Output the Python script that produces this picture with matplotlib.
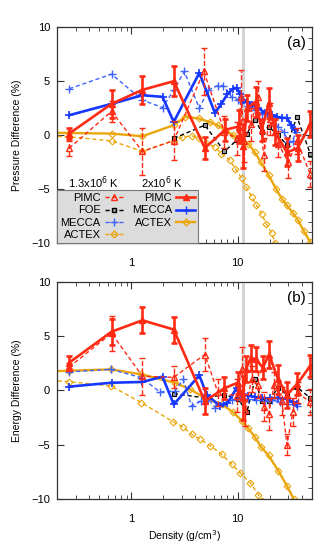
import numpy as np
import matplotlib.pyplot as plt
from matplotlib.ticker import MultipleLocator, LogLocator, NullFormatter
from matplotlib.lines import Line2D

plt.rcParams['font.family'] = ['Liberation Sans', 'DejaVu Sans']

RED = '#ff2a14'
BLUE = '#1637ff'
BLUE_D = '#3f63ff'
ORANGE = '#eaa60c'
DASH = (0, (3, 2))

# ---------------- (a) pressure difference ----------------
pa_pimc2_x = [0.26, 0.65, 1.27, 2.5, 4.9, 7.6, 10.2, 11.3, 12.2, 14.7, 16.8, 19.6, 22.5, 29, 36.5, 48]
pa_pimc2_y = [0.15, 2.9, 4.2, 5.0, -1.2, 0.5, 0.8, -1.0, 2.5, 3.1, 0.5, 3.0, 0.3, -1.6, -1.2, 1.0]
pa_pimc2_e = [0.5, 1.3, 1.3, 1.4, 1.0, 1.0, 1.5, 2.0, 1.2, 1.4, 1.0, 1.4, 1.2, 1.3, 1.2, 1.2]

pa_pimc1_x = [0.26, 0.65, 1.27, 2.5, 4.8, 7.5, 9.8, 10.8, 11.5, 13.3, 15.5, 17.5, 20, 24, 30, 36, 48]
pa_pimc1_y = [-1.2, 2.2, -1.5, -0.5, 5.9, 0.3, -0.3, 3.5, -0.5, 1.0, 3.5, -1.8, 1.5, -0.8, -2.5, -0.5, -3.6]
pa_pimc1_e = [0.7, 1.0, 2.2, 1.8, 2.2, 1.5, 1.5, 2.5, 2.0, 1.5, 1.5, 1.5, 1.5, 1.2, 1.5, 1.2, 1.2]

pa_mecca2_x = [0.26, 0.65, 1.27, 1.96, 2.5, 4.35, 6.1, 7.0, 8.0, 9.0, 9.8, 10.5, 11.2, 12.2,
               13.5, 15.6, 18.0, 20.9, 23.5, 26, 29, 32, 34.7]
pa_mecca2_y = [1.85, 2.9, 3.7, 3.55, 1.23, 5.77, 2.06, 2.9, 3.8, 4.3, 4.4, 3.8, 3.3, 3.1,
               2.8, 2.5, 2.1, 1.85, 1.7, 1.6, 1.6, 0.9, 0.46]

pa_mecca1_x = [0.26, 0.65, 1.27, 1.96, 2.5, 3.14, 4.35, 5.3, 6.5, 7.3, 8.8, 10.0, 11.0, 12.5,
               14.5, 17, 20, 24, 27, 30, 33, 35]
pa_mecca1_y = [4.3, 5.65, 3.25, 2.56, 4.17, 5.9, 2.5, 4.2, 4.6, 4.6, 3.5, 3.3, 3.1, 2.7,
               2.3, 2.0, 1.8, 0.8, 0.3, -0.6, -0.5, 0.3]

pa_foe_x = [2.5, 4.9, 7.5, 9.8, 12.2, 14.5, 16.8, 19.5, 24, 29, 36, 48]
pa_foe_y = [-0.3, 0.93, -1.5, -0.46, 0.15, 1.45, 0.3, 0.8, 0.0, -0.9, 1.7, -1.7]

pa_actex2_x = [0.15, 0.26, 0.65, 1.27, 2.5, 3.2, 4.3, 5.5, 6.5, 7.6, 9.0, 10.9, 12.6, 14.5,
               16.5, 19.5, 23, 26, 29, 33, 37, 42, 48]
pa_actex2_y = [0.25, 0.2, 0.15, -0.1, 0.93, 1.7, 1.55, 1.2, 0.9, 0.5, 0.0, -0.5, -0.8, -1.6,
               -2.5, -3.7, -5.0, -5.9, -6.5, -7.2, -7.9, -8.9, -9.9]

pa_actex1_x = [0.15, 0.26, 0.65, 1.27, 2.5, 3.0, 3.7, 4.3, 5.0, 6.1, 7.0, 8.4, 9.5, 10.9, 12.0,
               13.5, 15.0, 16.8, 18.5, 20.9, 22.5]
pa_actex1_y = [-0.05, -0.15, -0.53, -1.5, -0.5, -0.2, -0.05, -0.3, -0.7, -1.1, -1.7, -2.3, -3.1,
               -4.0, -4.8, -5.7, -6.5, -7.3, -8.2, -9.1, -10.0]

# ---------------- (b) energy difference ----------------
pb_pimc2_x = [0.26, 0.65, 1.27, 2.5, 4.9, 7.5, 10.0, 11.1, 12.0, 13.3, 14.8, 17.2, 19.7, 24, 29, 36, 48]
pb_pimc2_y = [2.55, 5.4, 6.45, 5.6, -1.0, 0.2, 0.7, -0.7, 2.0, 3.0, 2.85, 2.1, 3.3, 1.0, -0.4, 0.55, 2.25]
pb_pimc2_e = [0.6, 1.2, 1.2, 1.2, 1.2, 1.0, 1.0, 2.0, 1.2, 1.2, 1.1, 1.1, 1.2, 1.3, 1.2, 1.0, 1.0]

pb_pimc1_x = [0.26, 0.65, 1.27, 2.5, 4.9, 6.5, 9.8, 10.9, 11.8, 13.5, 15.5, 17.5, 19.5, 22, 26,
              29, 33, 36.5, 48]
pb_pimc1_y = [2.15, 5.25, 1.3, 1.2, 3.3, -0.2, -0.5, 2.0, -1.8, 1.0, 0.5, -1.5, -2.2, 0.5, -1.0,
              -5.0, -2.0, -0.2, -1.1]
pb_pimc1_e = [0.4, 1.6, 1.7, 1.0, 1.5, 1.2, 1.5, 2.0, 1.5, 1.2, 1.2, 1.3, 1.5, 1.2, 1.3,
              1.0, 1.3, 1.0, 1.2]

pb_mecca2_x = [0.26, 0.65, 1.27, 1.96, 2.5, 4.35, 5.1, 6.8, 8.0, 9.8, 11.0, 12.6, 14.5, 17, 20,
               24, 29, 33, 36]
pb_mecca2_y = [0.34, 0.7, 0.77, 1.26, -1.3, 1.38, -0.4, -1.45, -1.2, 0.25, -0.3, -0.5, -0.6, -0.7,
               -0.75, -0.7, -0.8, -1.1, -1.3]

pb_mecca1_x = [0.26, 0.64, 1.24, 1.85, 2.56, 3.07, 3.68, 4.5, 5.3, 6.1, 7.3, 8.8, 10.5, 12.5,
               15, 18, 21, 25, 30, 36]
pb_mecca1_y = [1.7, 1.93, 1.17, -0.15, -0.06, 1.0, -1.45, -1.0, -0.8, -1.6, -1.2, -0.9, -0.7, -0.8,
               -0.9, -1.0, -0.9, -1.1, -1.3, -1.4]

pb_foe_x = [2.5, 4.9, 7.5, 10.1, 12.2, 14.5, 16.8, 19.5, 24, 29, 36, 48]
pb_foe_y = [-0.3, -0.7, -0.4, -0.8, -2.0, 1.0, -1.0, -1.0, 0.25, -0.4, 0.3, -0.7]

pb_actex2_x = [0.15, 0.26, 0.64, 1.24, 2.56, 3.55, 4.9, 7.1, 9.0, 10.9, 12.5, 14.5, 16.5, 19.5,
               24, 29, 33.5]
pb_actex2_y = [1.75, 1.8, 1.93, 1.47, 0.7, 0.1, -0.7, -1.3, -2.0, -2.8, -3.5, -4.3, -5.2, -6.0,
               -7.4, -8.8, -10.0]

pb_actex1_x = [0.15, 0.26, 0.64, 1.24, 2.47, 3.07, 3.68, 4.4, 5.5, 7.07, 8.77, 10.5, 13.1, 15.6, 16.8]
pb_actex1_y = [0.95, 0.8, 0.4, -1.13, -2.9, -3.4, -4.05, -4.5, -5.1, -5.9, -6.8, -7.6, -8.5, -9.6, -10.2]

band = (10.9, 11.6)


def dashed_errorbar(ax, x, y, e, color, marker, mfc, ls, lw):
    eb = ax.errorbar(x, y, yerr=e, color=color, marker=marker, mfc=mfc, mec=color,
                     ms=4, ls=ls, lw=lw, elinewidth=lw, capsize=2.5, capthick=lw)
    if ls != '-':
        for bl in eb[2]:
            bl.set_linestyle('--')
    return eb


def draw(ax, d, label):
    ax.axvspan(*band, color='#d3d3d3', lw=0, zorder=0)
    ax.plot(d['actex1'][0], d['actex1'][1], color=ORANGE, ls=DASH, lw=1.0, marker='D',
            mfc='none', ms=3.5, mew=0.8)
    ax.plot(d['actex2'][0], d['actex2'][1], color=ORANGE, ls='-', lw=1.7, marker='D',
            mfc='none', ms=3.5, mew=0.8)
    ax.plot(d['foe'][0], d['foe'][1], color='black', ls=DASH, lw=1.0, marker='s',
            mfc='#999999', ms=3.5, mew=0.8)
    ax.plot(d['mecca1'][0], d['mecca1'][1], color=BLUE_D, ls=DASH, lw=1.0, marker='+',
            ms=6, mew=1.0)
    ax.plot(d['mecca2'][0], d['mecca2'][1], color=BLUE, ls='-', lw=1.9, marker='+',
            ms=6, mew=1.2)
    dashed_errorbar(ax, *d['pimc1'], RED, '^', 'none', DASH, 1.0)
    dashed_errorbar(ax, *d['pimc2'], RED, '^', RED, '-', 1.9)

    ax.set_xscale('log')
    ax.set_xlim(0.2, 50)
    ax.set_ylim(-10, 10)
    ax.set_xticks([1, 10], ['1', '10'])
    ax.xaxis.set_minor_locator(LogLocator(base=10, subs=np.arange(2, 10)))
    ax.xaxis.set_minor_formatter(NullFormatter())
    ax.set_yticks([-10, -5, 0, 5, 10])
    ax.yaxis.set_minor_locator(MultipleLocator(1))
    ax.tick_params(which='both', direction='in', top=True, right=True, labelsize=8,
                   color='#333333')
    ax.tick_params(which='major', length=5, width=0.8)
    ax.tick_params(which='minor', length=3, width=0.6, left=False)
    ax.tick_params(axis='x', pad=11)
    ax.tick_params(axis='y', pad=5)
    for sp in ax.spines.values():
        sp.set_linewidth(0.9)
        sp.set_color('#333333')
    ax.text(0.975, 0.925, label, transform=ax.transAxes, ha='right', va='center', fontsize=11)


fig = plt.figure(figsize=(3.32, 5.44), dpi=100)
ax_a = fig.add_axes([0.172, 0.553, 0.768, 0.397])
ax_b = fig.add_axes([0.172, 0.083, 0.768, 0.399])

data_a = {
    'pimc2': (pa_pimc2_x, pa_pimc2_y, pa_pimc2_e),
    'pimc1': (pa_pimc1_x, pa_pimc1_y, pa_pimc1_e),
    'mecca2': (pa_mecca2_x, pa_mecca2_y),
    'mecca1': (pa_mecca1_x, pa_mecca1_y),
    'foe': (pa_foe_x, pa_foe_y),
    'actex2': (pa_actex2_x, pa_actex2_y),
    'actex1': (pa_actex1_x, pa_actex1_y),
}
data_b = {
    'pimc2': (pb_pimc2_x, pb_pimc2_y, pb_pimc2_e),
    'pimc1': (pb_pimc1_x, pb_pimc1_y, pb_pimc1_e),
    'mecca2': (pb_mecca2_x, pb_mecca2_y),
    'mecca1': (pb_mecca1_x, pb_mecca1_y),
    'foe': (pb_foe_x, pb_foe_y),
    'actex2': (pb_actex2_x, pb_actex2_y),
    'actex1': (pb_actex1_x, pb_actex1_y),
}

draw(ax_a, data_a, '(a)')
draw(ax_b, data_b, '(b)')

ax_a.set_ylabel('Pressure Difference (%)', fontsize=7.5, labelpad=7)
ax_b.set_ylabel('Energy Difference (%)', fontsize=7.5, labelpad=7)
ax_b.set_xlabel('Density (g/cm$^3$)', fontsize=7.5, labelpad=3)

# legend in panel (a)
handles = [
    Line2D([], [], color=RED, ls=DASH, lw=1.0, marker='^', mfc='none', ms=4),
    Line2D([], [], color='black', ls=DASH, lw=1.0, marker='s', mfc='#999999', ms=3.5),
    Line2D([], [], color=BLUE_D, ls=DASH, lw=1.0, marker='+', ms=6),
    Line2D([], [], color=ORANGE, ls=DASH, lw=1.0, marker='D', mfc='none', ms=3.5),
    Line2D([], [], color=RED, ls='-', lw=1.9, marker='^', ms=4),
    Line2D([], [], color=BLUE, ls='-', lw=1.9, marker='+', ms=6),
    Line2D([], [], color=ORANGE, ls='-', lw=1.7, marker='D', mfc='none', ms=3.5),
    Line2D([], [], alpha=0),
]
labels = ['PIMC', 'FOE', 'MECCA', 'ACTEX', 'PIMC', 'MECCA', 'ACTEX', '']
leg = ax_a.legend(handles, labels, ncol=2, loc='lower left', bbox_to_anchor=(0, 0),
                  borderaxespad=0, markerfirst=False, fancybox=False, facecolor='#dcdcdc',
                  edgecolor='#777777', framealpha=1, fontsize=8, handlelength=1.7,
                  columnspacing=0.7, labelspacing=0.2, handletextpad=0.4, borderpad=0.3)
leg.get_frame().set_linewidth(0.8)
ax_a.text(0.141, 0.278, '1.3x10$^6$ K', transform=ax_a.transAxes, ha='center', va='center',
          fontsize=8)
ax_a.text(0.41, 0.278, '2x10$^6$ K', transform=ax_a.transAxes, ha='center', va='center',
          fontsize=8)

fig.savefig('out.png', dpi=100)
